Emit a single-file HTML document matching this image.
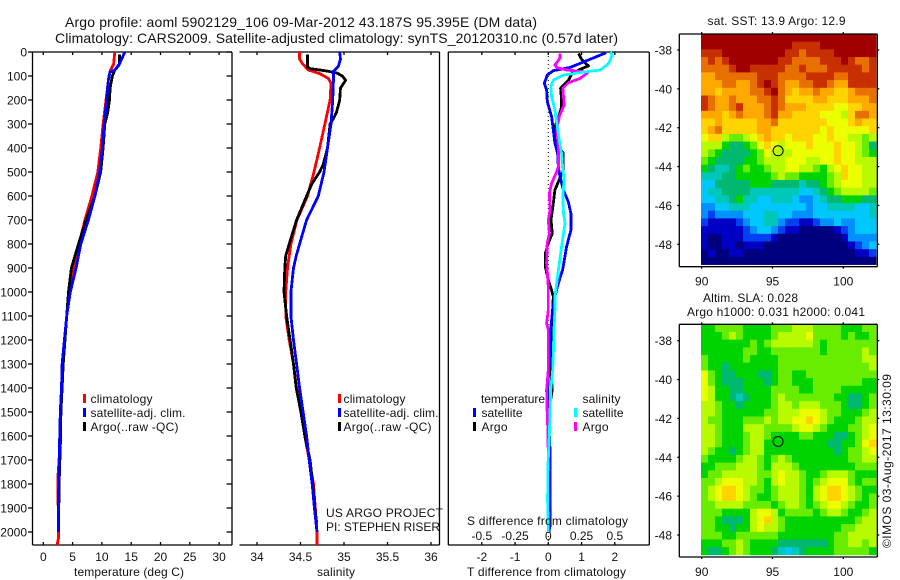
<!DOCTYPE html>
<html><head><meta charset="utf-8"><title>Argo profile</title>
<style>
html,body{margin:0;padding:0;background:#fff}
svg{display:block}
text{font-family:"Liberation Sans",sans-serif;font-size:12px;fill:#111}
</style></head>
<body>
<svg id="chart" xmlns="http://www.w3.org/2000/svg" width="900" height="580" viewBox="0 0 900 580">
<rect width="900" height="580" fill="#fff"/>
<g id="maps"></g>
<g id="profiles"></g>
<g id="labels">
<text x="65" y="27" style="font-size:14px" textLength="472">Argo profile: aoml 5902129_106 09-Mar-2012 43.187S 95.395E (DM data)</text>
<text x="55" y="43" style="font-size:14px" textLength="563">Climatology: CARS2009. Satellite-adjusted climatology: synTS_20120310.nc (0.57d later)</text>
<text x="74" y="576" textLength="110">temperature (deg C)</text>
<text x="317" y="576" textLength="38">salinity</text>
<text x="467" y="576" textLength="159">T difference from climatology</text>
<text x="467" y="525" textLength="161">S difference from climatology</text>
<text x="326" y="517" textLength="117">US ARGO PROJECT</text>
<text x="326" y="531" textLength="114">PI: STEPHEN RISER</text>
<text x="707.5" y="25" textLength="138">sat. SST: 13.9 Argo: 12.9</text>
<text x="703" y="302" textLength="95">Altim. SLA: 0.028</text>
<text x="687" y="316" textLength="178">Argo h1000: 0.031 h2000: 0.041</text>
<text transform="translate(891,548) rotate(-90)" textLength="174">©IMOS 03-Aug-2017 13:30:09</text>

<rect x="83" y="394" width="3" height="9" fill="#f00"/>
<rect x="83" y="408" width="3" height="9" fill="#00f"/>
<rect x="83" y="422" width="3" height="9" fill="#000"/>
<text x="90.5" y="403" textLength="62">climatology</text>
<text x="90.5" y="417" textLength="95">satellite-adj. clim.</text>
<text x="90.5" y="431" textLength="88">Argo(..raw -QC)</text>

<rect x="338" y="394" width="3" height="9" fill="#f00"/>
<rect x="338" y="408" width="3" height="9" fill="#00f"/>
<rect x="338" y="422" width="3" height="9" fill="#000"/>
<text x="343.5" y="403" textLength="62">climatology</text>
<text x="343.5" y="417" textLength="95">satellite-adj. clim.</text>
<text x="343.5" y="431" textLength="88">Argo(..raw -QC)</text>

<text x="481" y="403" textLength="64">temperature</text>
<rect x="473" y="408" width="3" height="9" fill="#00f"/>
<rect x="473" y="422" width="3" height="9" fill="#000"/>
<text x="481.5" y="417" textLength="41">satellite</text>
<text x="481.5" y="431" textLength="26">Argo</text>
<text x="582.5" y="403" textLength="38">salinity</text>
<rect x="574" y="408" width="3" height="9" fill="#0ff"/>
<rect x="574" y="422" width="3" height="9" fill="#f0f"/>
<text x="582.5" y="417" textLength="41">satellite</text>
<text x="582.5" y="431" textLength="26">Argo</text>
</g>
</svg>
<script>
// ---- axis tick values ----
const depthTicks = [0,100,200,300,400,500,600,700,800,900,1000,1100,1200,1300,1400,1500,1600,1700,1800,1900,2000];
const tempTicks = [0,5,10,15,20,25,30];
const salTicks = [34,34.5,35,35.5,36];
const tDiffTicks = [-2,-1,0,1,2];
const sDiffTicks = [-0.5,-0.25,0,0.25,0.5];
const sDiffLabels = ['-0.5','-0.25','0','0.25','0.5'];
const latTicks = [-38,-40,-42,-44,-46,-48];
const lonTicks = [90,95,100];

// ---- temperature profiles ----
const tempClimDepth = [0,50,80,100,200,300,400,500,600,700,800,900,1000,1100,1200,1300,1400,1500,1600,1700,1780,1900,2005,2025,2054];
const tempClim = [12.2,12,11.4,11.2,10.7,10.2,9.8,9.3,8.3,7.1,6.1,5.2,4.5,4,3.6,3.3,3.1,2.9,2.8,2.7,2.45,2.55,2.6,2.6,2.35];
const tempSatDepth = [0,55,76,83,118,200,300,400,500,600,700,800,900,1000,1100,1200,1300,1400,1500,1600,1700,1850,2000];
const tempSat = [13.9,12.9,12.2,11.4,11.1,10.8,10.4,10.1,9.6,8.8,7.7,6.4,5.6,4.6,4,3.6,3.2,3.1,2.9,2.8,2.73,2.6,2.55];
const tempArgoDepth = [10,50,75,100,150,200,250,300,400,500,600,700,800,900,1000,1100,1200,1300,1400,1500,1600,1800,2000];
const tempArgo = [13,13,12.2,11.8,11.4,11.3,11,10.5,10.2,9.8,8.8,7.3,6,4.8,4.3,4,3.7,3.4,3.2,3,2.95,2.7,2.6];

// ---- salinity profiles ----
const salClimDepth = [0,30,50,75,90,110,130,200,300,400,500,600,700,800,900,1000,1100,1200,1300,1400,1500,1600,1700,1800,1900,2000,2054];
const salClim = [34.49,34.49,34.525,34.59,34.72,34.82,34.85,34.84,34.78,34.72,34.655,34.58,34.46,34.39,34.35,34.33,34.33,34.37,34.42,34.455,34.51,34.55,34.6,34.65,34.67,34.69,34.69];
const salSatDepth = [0,30,60,80,100,200,300,400,500,600,700,800,850,900,1000,1100,1200,1300,1400,1500,1600,1700,1800,1900,2000];
const salSat = [34.95,34.96,34.935,34.88,34.88,34.87,34.85,34.81,34.77,34.705,34.57,34.49,34.45,34.42,34.39,34.39,34.42,34.455,34.49,34.53,34.57,34.6,34.635,34.66,34.69];
const salArgoDepth = [10,62,69,79,87,100,118,150,200,250,270,300,400,470,500,550,600,700,800,850,900,1000,1100,1200,1300,1400,1500,1600,1700,1800,1900,1960];
const salArgo = [34.58,34.58,34.61,34.8,34.915,34.98,35.02,34.96,34.95,34.915,34.89,34.84,34.81,34.76,34.72,34.63,34.57,34.455,34.37,34.33,34.32,34.31,34.34,34.38,34.42,34.45,34.505,34.55,34.61,34.64,34.665,34.685];

// ---- difference profiles ----
const tDiffSatDepth = [3,64,78,96,131,158,207,269,325,380,422,478,519,575,624,672,742,811,853,908,964,1019,1075,1158,1242,1408,1506,1658,1867,2000];
const tDiffSat = [1.74,0.66,0.15,-0.03,-0.12,-0.05,-0.03,0.1,0.15,0.2,0.28,0.3,0.35,0.45,0.6,0.68,0.68,0.55,0.5,0.43,0.3,0.2,0.13,0.07,0.05,-0.02,0,0.05,0.05,0.03];
const tDiffArgoDepth = [6,33,58,72,89,117,151,200,228,276,311,353,394,422,492,526,575,631,700,756,797,839,894,950,992,1019,1075,1158,1325,1408,1506,1589,1658,1867,1980];
const tDiffArgo = [0.91,1.01,1.21,0.96,0.71,0.61,0.37,0.4,0.4,0.3,0.2,0.23,0.3,0.45,0.45,0.35,0.2,0.15,0.08,0.12,0,-0.09,-0.09,0,0.1,0.15,0.13,0.1,0.07,0.12,0,0,0.05,0.05,0.05];
const sDiffSatDepth = [0,12,47,75,86,96,117,144,186,242,311,367,422,492,533,603,672,714,756,811,881,964,1019,1075,1158,1242,1325,1408,1506,1589,1658,1728,1867,2000];
const sDiffSat = [0.467,0.48,0.455,0.39,0.24,0.114,0.038,0.018,0.025,0.05,0.068,0.083,0.1,0.109,0.119,0.109,0.114,0.126,0.114,0.1,0.083,0.063,0.05,0.05,0.043,0.038,0.033,0.018,0.013,0.008,0.003,-0.003,-0.005,0];
const sDiffArgoDepth = [6,26,54,65,75,82,89,110,128,151,186,221,269,325,394,478,499,547,589,658,700,756,797,881,978,1019,1075,1130,1158,1325,1408,1506,1589,1700];
const sDiffArgo = [0.088,0.088,0.05,0.063,0.139,0.265,0.29,0.24,0.15,0.109,0.114,0.119,0.083,0.063,0.076,0.076,0.063,0.025,0.008,0.013,0,0.008,-0.008,-0.013,0,0,0,-0.013,0,0,-0.013,-0.008,-0.002,0];

// ---- map grids: rows north to south, columns west to east ----
const mapPalette = ['#00007f','#0000c4','#0040f0','#0090ff','#00c8ff','#00c8b8','#00b870','#00d400','#68ec00','#b8fa00','#ecff00','#ffd400','#ffa800','#e87000','#c83000','#a00000'];
const argoLon = 95.395;
const argoLat = -43.187;
const sstGrid = [
[15,15,15,15,15,15,15,15,15,15,15,15,15,15,15,15,15,15,15,15,15,15,15,15,15],
[15,15,15,15,15,15,15,15,15,15,15,15,15,14,14,14,14,15,15,15,15,15,15,15,15],
[14,14,14,15,15,15,15,15,15,15,15,15,14,14,13,14,14,14,14,15,15,15,15,15,15],
[13,14,13,14,15,15,15,15,15,15,15,14,14,13,13,13,13,14,14,14,15,14,13,13,14],
[13,13,13,13,14,15,15,14,14,14,14,14,13,13,14,13,13,13,14,14,14,14,14,13,14],
[12,12,13,13,13,13,13,13,14,14,14,13,13,13,13,14,14,14,14,13,13,14,14,14,14],
[12,12,12,13,13,12,12,13,14,15,14,13,12,12,13,13,14,14,13,12,12,14,14,14,14],
[12,12,11,12,12,12,12,13,13,14,15,13,12,11,12,12,13,12,12,11,11,12,13,13,13],
[14,13,12,12,13,12,12,12,13,13,14,13,11,11,11,11,12,12,11,11,11,12,12,12,13],
[14,13,12,12,13,14,12,12,12,13,14,13,12,12,12,11,11,11,11,10,10,11,11,12,12],
[12,12,12,11,12,13,12,12,12,13,14,12,12,11,11,11,11,10,10,10,9,11,13,13,12],
[11,11,12,11,11,11,11,11,12,12,13,11,11,11,11,11,11,11,10,10,10,11,12,11,11],
[11,12,13,11,11,11,11,11,12,12,11,11,11,11,11,11,11,10,11,10,10,10,10,10,11],
[10,11,11,9,8,8,9,10,11,12,11,11,10,11,11,11,10,10,11,10,10,9,9,8,9],
[9,9,9,7,6,6,7,8,10,11,10,9,10,10,10,11,10,10,10,11,10,10,9,8,6],
[9,8,7,6,6,6,6,7,8,10,9,9,9,10,10,10,10,10,10,11,10,10,9,8,7],
[8,7,6,6,6,6,7,7,8,9,9,9,10,10,10,9,9,10,10,11,10,10,9,9,9],
[7,6,5,5,6,7,8,7,7,8,9,9,10,10,9,9,8,7,9,10,11,10,10,9,9],
[5,5,5,6,6,7,7,7,7,7,8,9,8,8,7,7,7,7,8,9,11,10,10,9,9],
[4,4,6,6,6,6,6,7,7,7,6,6,6,6,5,6,6,7,8,9,10,10,10,9,9],
[4,5,5,6,6,6,6,5,5,5,5,5,5,5,4,4,5,6,7,8,9,9,9,9,8],
[4,4,5,5,6,7,5,5,4,4,5,5,5,4,3,3,4,5,6,6,7,7,7,6,6],
[3,3,4,4,5,5,5,4,4,4,4,4,4,4,4,3,4,4,5,5,5,5,4,4,5],
[3,2,3,3,3,3,4,4,4,5,5,4,4,3,3,3,4,4,4,4,4,4,4,4,5],
[2,1,1,1,1,2,3,4,4,5,5,3,2,2,1,1,2,3,3,4,3,3,4,4,4],
[1,1,1,1,1,1,2,3,4,4,3,2,1,1,0,0,0,0,0,1,2,3,4,4,4],
[1,0,0,1,1,1,2,2,2,2,1,0,0,0,0,0,0,0,0,0,1,3,3,3,3],
[1,0,0,1,1,0,1,1,1,0,0,0,0,0,0,0,0,0,0,0,0,1,2,3,4],
[0,1,0,0,1,1,0,0,0,0,0,0,0,0,0,0,0,0,0,0,0,0,1,1,2],
[0,0,0,0,0,0,0,0,0,0,0,0,0,0,0,0,0,0,0,0,0,0,0,0,0]
];
const slaGrid = [
[7,7,8,8,8,8,7,7,7,7,8,8,8,9,9,9,8,8,8,8,7,7,7,8,8],
[7,7,7,8,9,8,7,7,7,7,8,9,9,9,9,10,8,8,8,8,7,8,7,7,8],
[7,7,7,7,7,7,7,8,7,8,9,9,9,9,9,9,8,7,8,8,8,8,8,8,8],
[7,7,7,7,7,7,8,8,7,7,8,8,8,8,8,8,8,7,8,8,8,8,8,9,8],
[8,7,7,7,7,7,8,7,7,7,7,8,8,8,8,8,8,8,8,8,8,8,8,9,9],
[8,7,7,6,7,7,7,7,7,7,7,8,8,8,8,8,8,8,8,8,8,8,8,8,9],
[10,8,7,6,6,7,7,7,6,6,7,8,8,7,7,8,8,8,8,8,8,8,8,8,8],
[10,8,7,6,6,6,7,7,7,6,7,8,8,7,7,7,8,8,8,8,8,8,8,7,7],
[10,9,7,7,6,6,7,7,7,7,8,8,8,8,7,7,8,8,8,8,7,7,7,7,7],
[10,9,7,7,6,5,6,7,7,7,8,9,8,8,8,8,8,8,8,7,7,6,6,7,8],
[9,9,8,7,7,6,7,7,7,7,8,9,9,8,9,9,9,8,8,8,7,6,6,7,8],
[9,9,8,7,7,7,7,7,7,8,8,9,9,9,10,10,10,9,8,8,7,7,7,8,9],
[9,8,8,7,7,7,8,8,8,9,8,9,9,10,10,11,10,9,8,7,7,7,8,9,9],
[9,9,8,7,7,7,9,9,9,8,8,8,8,9,10,10,9,8,7,7,7,8,8,9,10],
[9,9,8,7,7,7,8,9,9,8,7,7,7,7,8,8,7,7,7,6,6,7,8,9,10],
[9,9,8,7,7,7,8,9,9,7,7,7,7,7,7,7,7,7,6,6,7,7,8,10,11],
[9,8,7,7,6,7,8,9,9,7,7,7,7,7,7,7,7,7,7,6,7,8,8,9,10],
[8,7,7,7,7,8,9,9,8,7,8,9,8,7,7,7,7,7,7,7,7,8,8,9,9],
[7,7,8,8,8,9,9,9,8,7,9,9,9,8,7,7,7,7,7,7,7,7,8,8,8],
[7,8,8,9,9,9,9,9,8,8,9,10,9,9,8,7,7,8,9,9,9,8,7,7,7],
[8,8,9,10,10,10,9,9,8,7,9,10,9,9,8,7,8,9,10,10,10,8,7,8,8],
[8,9,10,11,11,10,9,8,8,7,8,9,9,9,8,7,9,10,11,11,10,9,8,7,7],
[8,9,10,11,11,10,9,8,7,7,8,9,9,9,8,7,9,10,11,11,10,9,8,7,8],
[8,8,9,9,9,9,8,8,8,8,7,8,9,9,8,7,8,9,10,10,9,8,7,7,8],
[8,8,8,7,7,7,7,9,10,10,9,7,8,8,8,8,7,8,9,9,8,7,7,8,9],
[8,8,7,6,6,6,7,9,10,11,9,8,7,7,7,7,7,7,7,7,7,7,8,9,9],
[8,8,7,7,6,7,7,9,10,9,9,8,7,7,7,7,7,7,7,7,8,8,9,9,9],
[8,8,8,7,7,8,8,8,8,8,8,7,7,7,7,7,7,7,7,8,8,9,9,9,9],
[7,7,7,8,8,9,8,7,7,7,7,6,6,6,6,6,6,6,7,8,8,9,9,8,9],
[7,6,6,7,8,9,8,7,7,7,6,5,4,5,6,7,7,7,7,8,8,8,8,8,7]
];

// ---- axis functions ----
const NS = 'http://www.w3.org/2000/svg';
const depthY = d => 52 + d * 0.24;
const tempX = t => 43.3 + t * 5.86;
const salX = s => 257 + (s - 34) * 87;
const tDiffX = t => 548.3 + t * 33.25;
const sDiffX = s => 548.3 + s * 133;
const lonX = lon => 701.7 + (lon - 90) * 14.16;
const sstLatY = lat => 50 + (-38 - lat) * 19.43;
const slaLatY = lat => 340.7 + (-38 - lat) * 19.43;
const gridLon0 = 89.95, gridDLon = 0.4944, gridDLat = 0.3955;
const sstLat0 = -37.177, slaLat0 = -37.156;

const profileLayer = document.getElementById('profiles');
const mapLayer = document.getElementById('maps');

function drawLine(parent, x1, y1, x2, y2, w) {
  const el = document.createElementNS(NS, 'line');
  
  
  el.setAttribute('x1', x1); el.setAttribute('y1', y1);
  el.setAttribute('x2', x2); el.setAttribute('y2', y2);
  el.setAttribute('stroke', '#000');
  el.setAttribute('stroke-width', w || 1.3);
  parent.appendChild(el);
  return el;
}
function drawLabel(parent, str, x, y, anchor) {
  const el = document.createElementNS(NS, 'text');
  
  
  el.setAttribute('x', x); el.setAttribute('y', y);
  el.setAttribute('text-anchor', anchor || 'middle');
  el.textContent = str;
  parent.appendChild(el);
  return el;
}
function drawSeries(name, depths, values, xFn, color, w) {
  const el = document.createElementNS(NS, 'polyline');
  
  
  el.setAttribute('fill', 'none');
  el.setAttribute('stroke', color);
  el.setAttribute('stroke-width', w || 2.8);
  el.setAttribute('stroke-linejoin', 'round');
  el.setAttribute('shape-rendering', 'crispEdges');
  el.setAttribute('points', depths.map((d, i) => xFn(values[i]).toFixed(1) + ',' + depthY(d).toFixed(1)).join(' '));
  profileLayer.appendChild(el);
}

const plotTop = 52, plotBot = 545;
// panel 1 frame
drawLine(profileLayer, 32.5, plotTop, 232, plotTop); drawLine(profileLayer, 32.5, plotBot, 232, plotBot);
drawLine(profileLayer, 32.5, plotTop, 32.5, plotBot); drawLine(profileLayer, 232, plotTop, 232, plotBot);
depthTicks.forEach(d => {
  drawLine(profileLayer, 28, depthY(d), 32.5, depthY(d));
  drawLine(profileLayer, 226.5, depthY(d), 232, depthY(d));
  drawLabel(profileLayer, String(d), 27, depthY(d) + 4.5, 'end');
});
tempTicks.forEach(t => {
  drawLine(profileLayer, tempX(t), plotTop, tempX(t), plotTop + 3);
  drawLine(profileLayer, tempX(t), plotBot - 3, tempX(t), plotBot);
  drawLabel(profileLayer, String(t), tempX(t), 561);
});
// panel 2 frame
drawLine(profileLayer, 239.5, plotTop, 439.5, plotTop); drawLine(profileLayer, 239.5, plotBot, 439.5, plotBot);
drawLine(profileLayer, 439.5, plotTop, 439.5, plotBot);
salTicks.forEach(s => {
  drawLine(profileLayer, salX(s), plotTop, salX(s), plotTop + 3);
  drawLine(profileLayer, salX(s), plotBot - 3, salX(s), plotBot);
  drawLabel(profileLayer, String(s), salX(s), 561);
});
// panel 3 frame
drawLine(profileLayer, 448.3, plotTop, 649.3, plotTop); drawLine(profileLayer, 448.3, plotBot, 649.3, plotBot);
drawLine(profileLayer, 448.3, plotTop, 448.3, plotBot); drawLine(profileLayer, 649.3, plotTop, 649.3, plotBot);
tDiffTicks.forEach(t => {
  drawLine(profileLayer, tDiffX(t), plotTop, tDiffX(t), plotTop + 3);
  drawLine(profileLayer, tDiffX(t), plotBot - 3, tDiffX(t), plotBot);
  drawLabel(profileLayer, String(t), tDiffX(t), 561);
});
sDiffTicks.forEach((s, i) => {
  drawLabel(profileLayer, sDiffLabels[i], sDiffX(s), 540);
});
const zeroLine = drawLine(profileLayer, tDiffX(0), plotTop, tDiffX(0), plotBot, 1);

zeroLine.setAttribute('stroke-dasharray', '1 3');

// profile series
drawSeries('temperature-climatology-line', tempClimDepth, tempClim, tempX, '#f00');
drawSeries('temperature-argo-line', tempArgoDepth, tempArgo, tempX, '#000');
drawSeries('temperature-satellite-line', tempSatDepth, tempSat, tempX, '#00f');
drawSeries('salinity-climatology-line', salClimDepth, salClim, salX, '#f00');
drawSeries('salinity-argo-line', salArgoDepth, salArgo, salX, '#000');
drawSeries('salinity-satellite-line', salSatDepth, salSat, salX, '#00f');
drawSeries('t-difference-argo-line', tDiffArgoDepth, tDiffArgo, tDiffX, '#000');
drawSeries('t-difference-satellite-line', tDiffSatDepth, tDiffSat, tDiffX, '#00f');
drawSeries('s-difference-argo-line', sDiffArgoDepth, sDiffArgo, sDiffX, '#f0f');
drawSeries('s-difference-satellite-line', sDiffSatDepth, sDiffSat, sDiffX, '#0ff');

// maps
function drawMap(name, grid, lat0, latY, frameTop, frameBot) {
  grid.forEach((row, r) => {
    row.forEach((v, c) => {
      const cell = document.createElementNS(NS, 'rect');
      
      
      const x0 = lonX(gridLon0 + c * gridDLon), y0 = latY(lat0 - r * gridDLat);
      const x1 = lonX(gridLon0 + (c + 1) * gridDLon), y1 = latY(lat0 - (r + 1) * gridDLat);
      cell.setAttribute('x', x0.toFixed(2));
      cell.setAttribute('y', y0.toFixed(2));
      cell.setAttribute('width', (x1 - x0 + 0.4).toFixed(2));
      cell.setAttribute('height', (y1 - y0 + 0.4).toFixed(2));
      cell.setAttribute('fill', mapPalette[Math.max(0, Math.min(mapPalette.length - 1, Math.round(v)))]);
      mapLayer.appendChild(cell);
    });
  });
  const L = 679.3, R = 877.3;
  drawLine(mapLayer, L, frameTop, R, frameTop); drawLine(mapLayer, L, frameBot, R, frameBot);
  drawLine(mapLayer, L, frameTop, L, frameBot); drawLine(mapLayer, R, frameTop, R, frameBot);
  lonTicks.forEach(lon => {
    drawLine(mapLayer, lonX(lon), frameTop - 2, lonX(lon), frameTop);
    drawLine(mapLayer, lonX(lon), frameBot, lonX(lon), frameBot + 2);
    drawLabel(mapLayer, String(lon), lonX(lon), frameBot + 19);
  });
  latTicks.forEach(lat => {
    drawLine(mapLayer, L - 2, latY(lat), L, latY(lat));
    drawLine(mapLayer, R, latY(lat), R + 2, latY(lat));
    drawLabel(mapLayer, String(lat), 672, latY(lat) + 4.5, 'end');
  });
  const marker = document.createElementNS(NS, 'circle');
  
  
  marker.setAttribute('cx', lonX(argoLon));
  marker.setAttribute('cy', latY(argoLat));
  marker.setAttribute('r', 5);
  marker.setAttribute('fill', 'none');
  marker.setAttribute('stroke', '#000');
  marker.setAttribute('stroke-width', 1);
  mapLayer.appendChild(marker);
}
drawMap('sst-map', sstGrid, sstLat0, sstLatY, 34, 266.7);
drawMap('sla-map', slaGrid, slaLat0, slaLatY, 324.3, 557);
</script>
</body></html>
